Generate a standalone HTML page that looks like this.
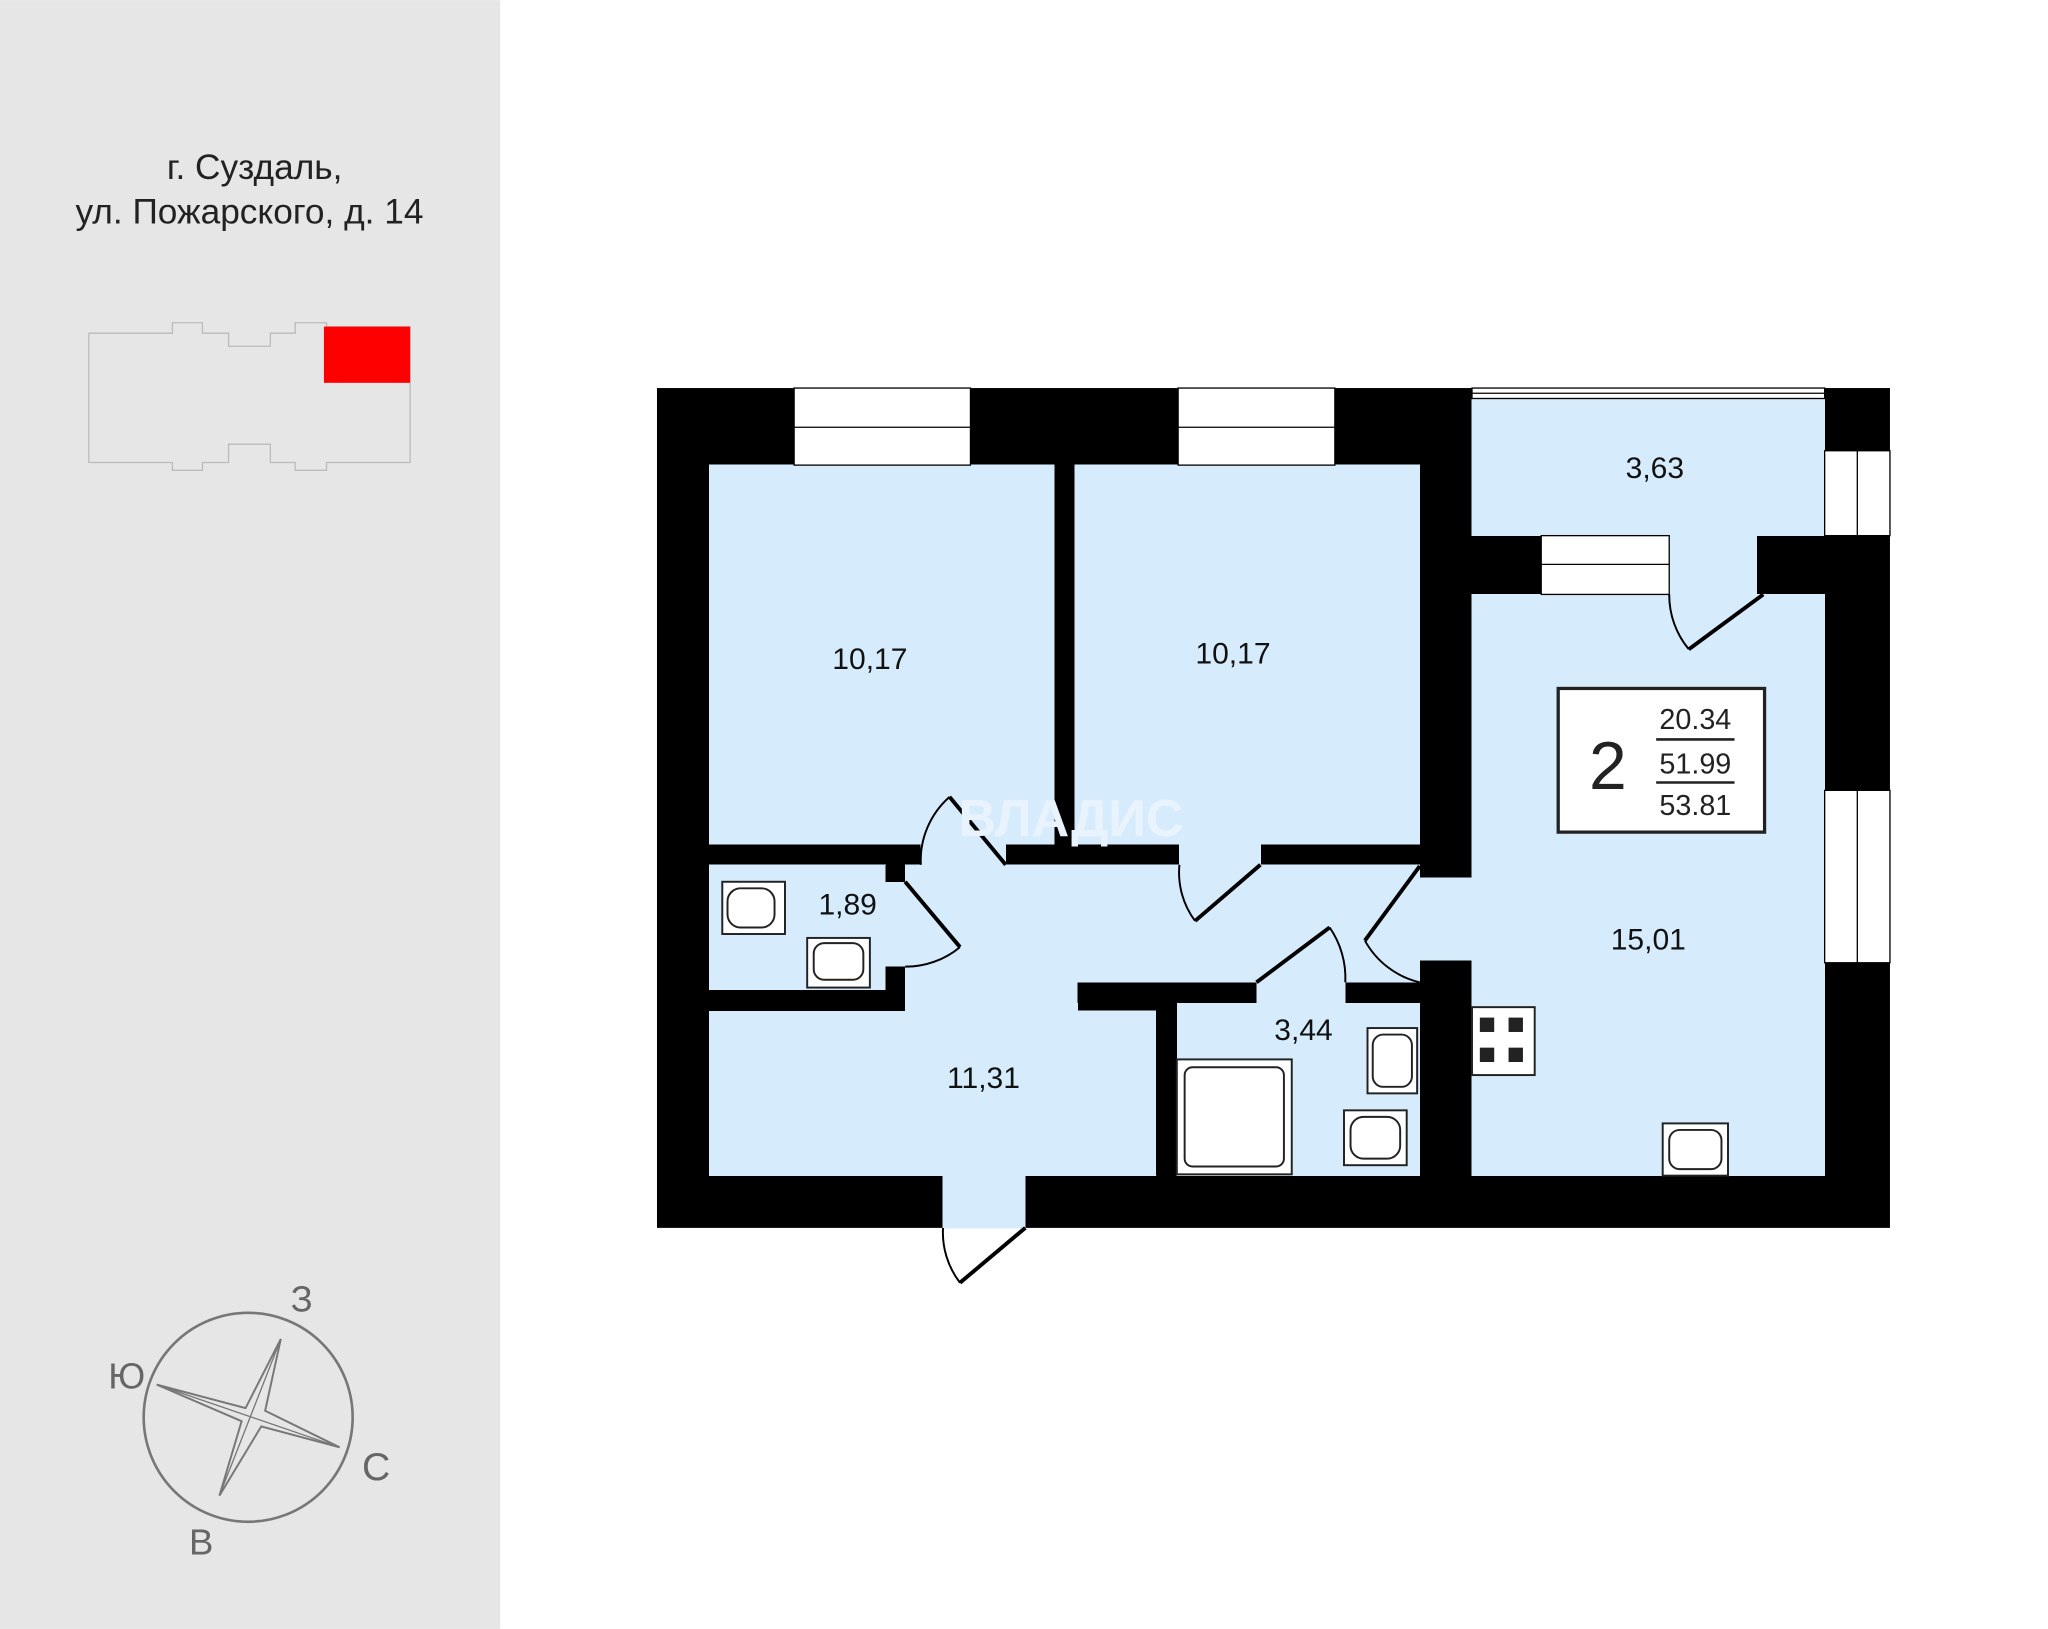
<!DOCTYPE html>
<html><head><meta charset="utf-8"><style>
html,body{margin:0;padding:0;background:#fff}
svg{display:block}
text{font-family:"Liberation Sans",sans-serif}
</style></head><body>
<svg width="2048" height="1629" viewBox="0 0 1568 1247" xmlns="http://www.w3.org/2000/svg">
<rect width="1568" height="1247" fill="#fff"/>
<rect x="0" y="0" width="383" height="1247" fill="#e6e6e6"/>
<text x="195" y="137" font-size="27" text-anchor="middle" fill="#222">г. Суздаль,</text>
<text x="191" y="171" font-size="27" text-anchor="middle" fill="#222">ул. Пожарского, д. 14</text>
<polyline points="68,255 132,255 132,247 155,247 155,255 175,255 175,265 207,265 207,255 226,255 226,247 250,247 250,250 314,250 314,354 250,354 250,360 226,360 226,354 207,354 207,340 175,340 175,354 155,354 155,360 132,360 132,354 68,354 68,255" fill="none" stroke="#bbb" stroke-width="1"/>
<rect x="248" y="250" width="66" height="43" fill="#f00"/>
<circle cx="190" cy="1085" r="80" fill="none" stroke="#777" stroke-width="2"/>
<polygon points="215,1025 203,1080 260,1108 200,1092 168,1145 185,1088 120,1060 188,1078" fill="none" stroke="#777" stroke-width="1.5"/>
<line x1="215" y1="1025" x2="168" y2="1145" stroke="#777" stroke-width="1"/>
<line x1="120" y1="1060" x2="260" y2="1108" stroke="#777" stroke-width="1"/>
<text x="231" y="1004" font-size="28" text-anchor="middle" fill="#666">З</text>
<text x="97" y="1063" font-size="28" text-anchor="middle" fill="#666">Ю</text>
<text x="288" y="1133" font-size="30" text-anchor="middle" fill="#666">С</text>
<text x="154" y="1190" font-size="28" text-anchor="middle" fill="#666">В</text>
<rect x="503" y="297" width="944" height="643" fill="#000"/>
<g fill="#d6ecfd" stroke="#d6ecfd" stroke-width="0.6" shape-rendering="crispEdges">
<rect x="543" y="356" width="264" height="290"/>
<rect x="823" y="356" width="264" height="290"/>
<rect x="1127" y="305" width="270" height="105"/>
<rect x="1127" y="455" width="270" height="445"/>
<rect x="543" y="662" width="135" height="96"/>
<rect x="693" y="662" width="394" height="90"/>
<rect x="1087" y="672" width="40" height="63"/>
<rect x="543" y="774" width="342" height="126"/>
<rect x="678" y="675" width="15" height="65"/>
<rect x="693" y="752" width="132" height="22"/>
<rect x="901" y="768" width="186" height="132"/>
<rect x="722" y="900" width="63" height="40"/>
<rect x="705" y="646" width="65" height="16"/>
<rect x="903" y="646" width="62" height="16"/>
<rect x="962" y="752" width="68" height="16"/>
<rect x="1278" y="410" width="67" height="45"/>
</g>
<g fill="#000" shape-rendering="crispEdges">
<rect x="825" y="752" width="137" height="16"/>
<rect x="1030" y="752" width="57" height="16"/>
<rect x="885" y="768" width="16" height="132"/>
<rect x="543" y="758" width="150" height="16"/>
<rect x="678" y="662" width="15" height="13"/>
<rect x="678" y="740" width="15" height="20"/>
</g>
<g fill="#fff" stroke="#000" stroke-width="1">
<rect x="608" y="297" width="135" height="59"/><line x1="608" y1="327" x2="743" y2="327"/>
<rect x="902" y="297" width="120" height="59"/><line x1="902" y1="327" x2="1022" y2="327"/>
<rect x="1180" y="410" width="98" height="45"/><line x1="1180" y1="432" x2="1278" y2="432"/>
<rect x="1397" y="345" width="50" height="65"/><line x1="1422" y1="345" x2="1422" y2="410"/>
<rect x="1397" y="605" width="50" height="132"/><line x1="1422" y1="605" x2="1422" y2="737"/>
<rect x="1127" y="297" width="270" height="8"/><line x1="1127" y1="301" x2="1397" y2="301"/>
</g>
<g fill="none" stroke="#000" stroke-width="3">
<line x1="1350" y1="455" x2="1293" y2="497"/><path d="M1293,497 A65,65 0 0 1 1278,455" stroke-width="1.5"/>
<line x1="770" y1="662" x2="727" y2="610"/><path d="M727,610 A65,65 0 0 0 705,662" stroke-width="1.5"/>
<line x1="965" y1="662" x2="915" y2="705"/><path d="M915,705 A62,62 0 0 1 903,662" stroke-width="1.5"/>
<line x1="962" y1="752" x2="1018" y2="710"/><path d="M1018,710 A68,68 0 0 1 1030,752" stroke-width="1.5"/>
<line x1="1087" y1="663" x2="1045" y2="720"/><path d="M1045,720 A65,65 0 0 0 1087,752" stroke-width="1.5"/>
<line x1="693" y1="675" x2="735" y2="725"/><path d="M735,725 A65,65 0 0 1 693,740" stroke-width="1.5"/>
<line x1="785" y1="940" x2="735" y2="982"/><path d="M735,982 A63,63 0 0 1 722,940" stroke-width="1.5"/>
</g>
<g fill="#fff" stroke="#222" stroke-width="1.5">
<rect x="553" y="675" width="48" height="40"/><rect x="557" y="680" width="36" height="30" rx="10"/>
<rect x="618" y="718" width="48" height="38"/><rect x="623" y="722" width="38" height="28" rx="8"/>
<rect x="1047" y="787" width="38" height="50"/><rect x="1051" y="792" width="30" height="40" rx="8"/>
<rect x="1029" y="850" width="48" height="42"/><rect x="1034" y="855" width="38" height="32" rx="10"/>
<rect x="1273" y="860" width="50" height="40"/><rect x="1278" y="865" width="40" height="30" rx="8"/>
<rect x="901" y="811" width="88" height="88"/><rect x="907" y="817" width="76" height="76" rx="6"/>
<rect x="1127" y="771" width="48" height="52"/>
</g>
<g fill="#222">
<rect x="1133" y="779" width="11" height="11"/><rect x="1155" y="779" width="11" height="11"/>
<rect x="1133" y="802" width="11" height="11"/><rect x="1155" y="802" width="11" height="11"/>
</g>
<text x="820" y="640" font-size="40" font-weight="bold" text-anchor="middle" fill="#e8f3fd">ВЛАДИС</text>
<g font-size="23" text-anchor="middle" fill="#111">
<text x="666" y="512">10,17</text>
<text x="944" y="508">10,17</text>
<text x="1267" y="366">3,63</text>
<text x="649" y="700">1,89</text>
<text x="753" y="833">11,31</text>
<text x="998" y="796">3,44</text>
<text x="1262" y="727">15,01</text>
</g>
<rect x="1193" y="527" width="158" height="110" fill="#fff" stroke="#222" stroke-width="2.5"/>
<text x="1231" y="604" font-size="52" text-anchor="middle" fill="#222">2</text>
<g font-size="22" text-anchor="middle" fill="#222">
<text x="1298" y="558">20.34</text>
<text x="1298" y="592">51.99</text>
<text x="1298" y="624">53.81</text>
</g>
<line x1="1268" y1="566" x2="1328" y2="566" stroke="#222" stroke-width="2"/>
<line x1="1268" y1="599" x2="1328" y2="599" stroke="#222" stroke-width="2"/>
</svg>
</body></html>
